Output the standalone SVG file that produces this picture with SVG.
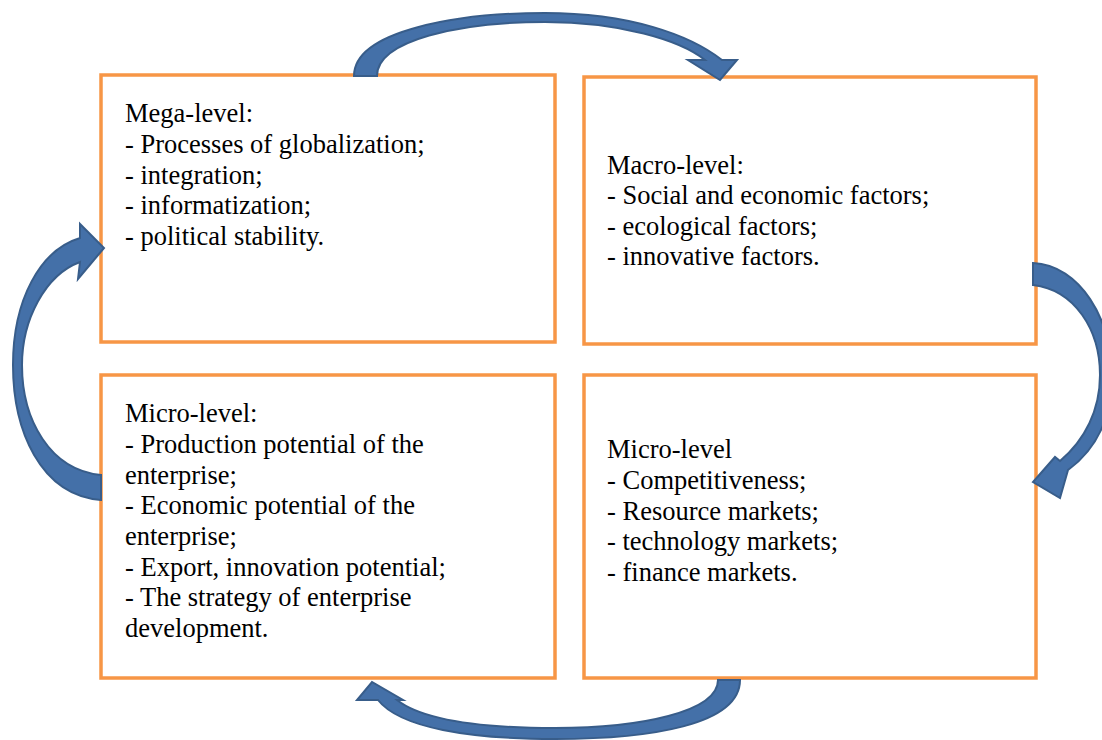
<svg xmlns="http://www.w3.org/2000/svg" width="1102" height="740" viewBox="0 0 1102 740">
<style>
.box{fill:#fff;stroke:#F79646;stroke-width:3.5}
.t{font-family:"Liberation Serif","Times New Roman",serif;font-size:26.5px;fill:#000}
.arr{fill:#4470A8;stroke:#385D8A;stroke-width:2;stroke-linejoin:miter}
</style>
<rect width="1102" height="740" fill="#fff"/>
<g id="mega">
<rect class="box" x="101" y="75" width="454" height="267"/>
<text class="t" x="125" y="122">Mega-level:</text>
<text class="t" x="125" y="153">- Processes of globalization;</text>
<text class="t" x="125" y="184">- integration;</text>
<text class="t" x="125" y="214">- informatization;</text>
<text class="t" x="125" y="245">- political stability.</text>
</g>
<g id="macro">
<rect class="box" x="584" y="77" width="452" height="267"/>
<text class="t" x="607" y="174">Macro-level:</text>
<text class="t" x="607" y="204">- Social and economic factors;</text>
<text class="t" x="607" y="235">- ecological factors;</text>
<text class="t" x="607" y="265">- innovative factors.</text>
</g>
<g id="micro1">
<rect class="box" x="101" y="375" width="454" height="303"/>
<text class="t" x="125" y="422">Micro-level:</text>
<text class="t" x="125" y="453">- Production potential of the</text>
<text class="t" x="125" y="484">enterprise;</text>
<text class="t" x="125" y="514">- Economic potential of the</text>
<text class="t" x="125" y="545">enterprise;</text>
<text class="t" x="125" y="576">- Export, innovation potential;</text>
<text class="t" x="125" y="606">- The strategy of enterprise</text>
<text class="t" x="125" y="637">development.</text>
</g>
<g id="micro2">
<rect class="box" x="584" y="375" width="452" height="303"/>
<text class="t" x="607" y="458">Micro-level</text>
<text class="t" x="607" y="489">- Competitiveness;</text>
<text class="t" x="607" y="520">- Resource markets;</text>
<text class="t" x="607" y="550">- technology markets;</text>
<text class="t" x="607" y="581">- finance markets.</text>
</g>
<g id="connectors">
<path class="arr" d="M354,76 C354,30 460,13 545,13 C630,13 690,35 722,60 L737,60 L720,80 L688,60 L705,60 C680,40 620,22 545,22 C460,22 377,40 377,76 Z"/>
<path class="arr" d="M1033,263 C1080,265 1112,320 1112,375 C1112,420 1095,450 1068,470 L1060,498 L1033,482 L1055,457 L1060,461 C1085,440 1100,410 1100,375 C1100,330 1075,290 1033,285 Z"/>
<path class="arr" d="M718,680 C718,712 640,728 555,728 C470,728 420,718 397,700 L403,700 L372,682 L357,700 L378,700 C400,728 470,739 555,739 C650,739 740,725 740,680 Z"/>
<path class="arr" d="M101,500 C40,495 13,430 13,365 C13,300 40,250 80,238 L80,224 L104,248 L78,279 L80,262 C45,275 22,320 22,365 C22,420 50,470 101,475 Z"/>
</g>
</svg>
